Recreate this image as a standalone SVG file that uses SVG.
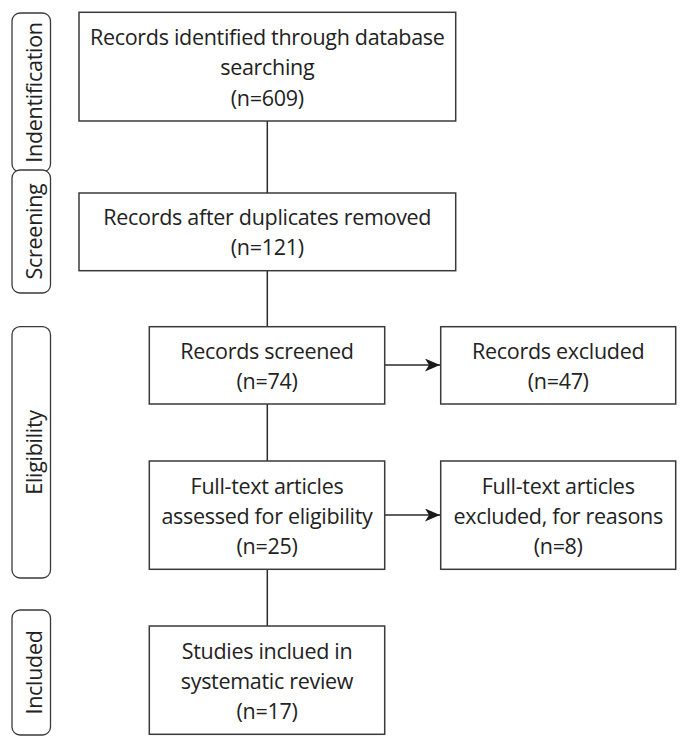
<svg xmlns="http://www.w3.org/2000/svg" width="689" height="748" viewBox="0 0 689 748">
<defs>
<style>
.box{fill:#fff;stroke:#3a3a3a;stroke-width:1.5}
.lab{fill:#fff;stroke:#3a3a3a;stroke-width:1.3}
.t{font-family:"Open Sans","Noto Sans","Liberation Sans",sans-serif;font-size:21.5px;letter-spacing:-0.3px;fill:#222;text-anchor:middle}
.c{stroke:#2a2a2a;stroke-width:1.5;fill:none}
</style>
<marker id="ah" markerUnits="userSpaceOnUse" markerWidth="16" markerHeight="14" refX="15" refY="6.5" orient="auto">
<path d="M0,0 L15,6.5 L0,13 L4,6.5 z" fill="#1a1a1a"/>
</marker>
</defs>
<rect width="689" height="748" fill="#fff"/>
<g id="label-identification">
<rect class="lab" x="12" y="13" width="38.5" height="159" rx="8"/>
<text class="t" transform="translate(41.5,92.5) rotate(-90)">Indentification</text>
</g>
<g id="label-screening">
<rect class="lab" x="12" y="170" width="38.5" height="123" rx="8"/>
<text class="t" transform="translate(41.5,231.5) rotate(-90)">Screening</text>
</g>
<g id="label-eligibility">
<rect class="lab" x="12" y="326.7" width="38.5" height="251.3" rx="8"/>
<text class="t" transform="translate(41.5,452.5) rotate(-90)">Eligibility</text>
</g>
<g id="label-included">
<rect class="lab" x="12" y="610" width="38.5" height="125" rx="8"/>
<text class="t" transform="translate(41.5,672.5) rotate(-90)">Included</text>
</g>
<g id="connectors">
<line class="c" x1="267.3" y1="121" x2="267.3" y2="193"/>
<line class="c" x1="267.3" y1="270.7" x2="267.3" y2="326.7"/>
<line class="c" x1="267.3" y1="404" x2="267.3" y2="461"/>
<line class="c" x1="267.3" y1="569.3" x2="267.3" y2="626"/>
<line class="c" x1="384.7" y1="365" x2="440" y2="365" marker-end="url(#ah)"/>
<line class="c" x1="384.7" y1="515" x2="440" y2="515" marker-end="url(#ah)"/>
</g>
<g id="node-identified">
<rect class="box" x="79" y="12.3" width="376.7" height="108.7"/>
<text class="t" x="267.3" y="44.5">Records identified through database</text>
<text class="t" x="267.3" y="75">searching</text>
<text class="t" x="267.3" y="105.5">(n=609)</text>
</g>
<g id="node-duplicates">
<rect class="box" x="79" y="193" width="376.7" height="77.7"/>
<text class="t" x="267.3" y="224.5">Records after duplicates removed</text>
<text class="t" x="267.3" y="254.5">(n=121)</text>
</g>
<g id="node-screened">
<rect class="box" x="149.3" y="326.7" width="235.4" height="77.3"/>
<text class="t" x="267" y="359.3">Records screened</text>
<text class="t" x="267" y="389.3">(n=74)</text>
</g>
<g id="node-excluded">
<rect class="box" x="440.7" y="326.7" width="235" height="77.3"/>
<text class="t" x="558.2" y="359.3">Records excluded</text>
<text class="t" x="558.2" y="389.3">(n=47)</text>
</g>
<g id="node-fulltext">
<rect class="box" x="149.3" y="461" width="235.4" height="108.3"/>
<text class="t" x="267" y="493.5">Full-text articles</text>
<text class="t" x="267" y="523.5">assessed for eligibility</text>
<text class="t" x="267" y="553.5">(n=25)</text>
</g>
<g id="node-fulltext-excluded">
<rect class="box" x="440.7" y="461" width="235" height="108.3"/>
<text class="t" x="558.2" y="493.5">Full-text articles</text>
<text class="t" x="558.2" y="523.5">excluded, for reasons</text>
<text class="t" x="558.2" y="553.5">(n=8)</text>
</g>
<g id="node-included">
<rect class="box" x="149.3" y="626" width="235.4" height="108.3"/>
<text class="t" x="267" y="658.5">Studies inclued in</text>
<text class="t" x="267" y="688.5">systematic review</text>
<text class="t" x="267" y="718.5">(n=17)</text>
</g>
</svg>
